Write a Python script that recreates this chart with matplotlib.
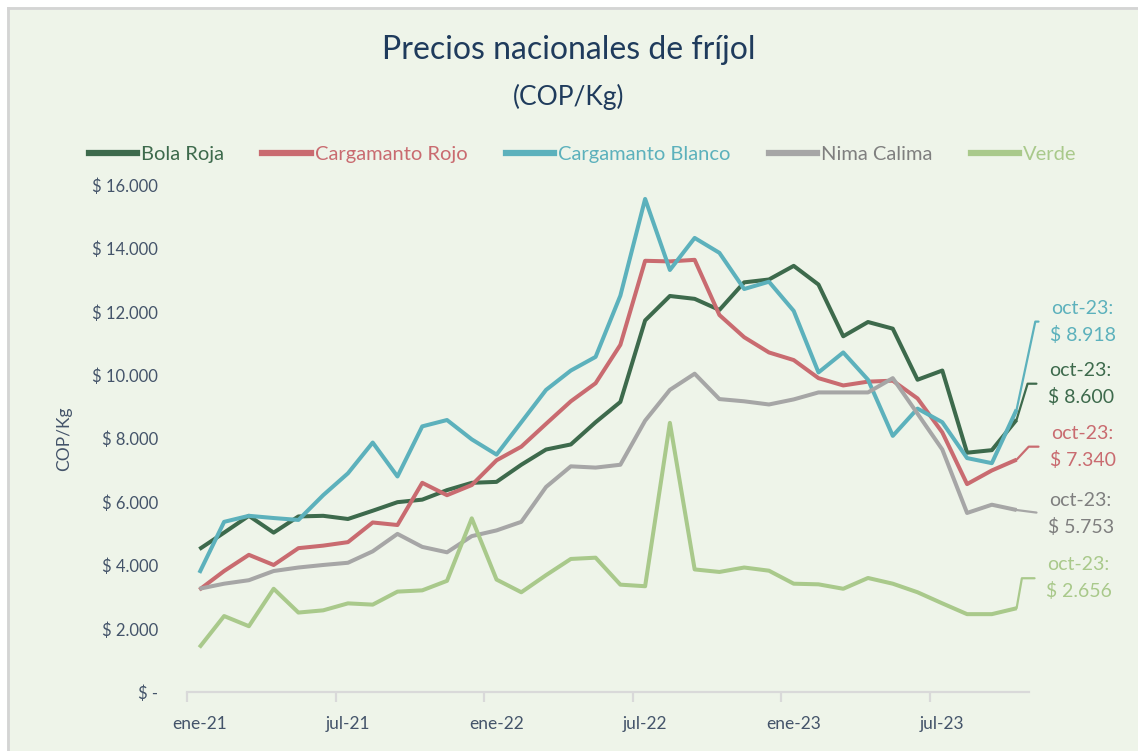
"""
Precios nacionales de frijol (COP/Kg), ene-21 a oct-23.

    python3 plot.py      # writes out.png
"""

import matplotlib

matplotlib.use("Agg")  # headless
import matplotlib.pyplot as plt
from matplotlib.lines import Line2D
from matplotlib.patches import Rectangle
from matplotlib.ticker import FuncFormatter, FixedLocator

# ── Data ────────────────────────────────────────────────────────────────────

months = [
    "ene-21", "feb-21", "mar-21", "abr-21", "may-21", "jun-21",
    "jul-21", "ago-21", "sep-21", "oct-21", "nov-21", "dic-21",
    "ene-22", "feb-22", "mar-22", "abr-22", "may-22", "jun-22",
    "jul-22", "ago-22", "sep-22", "oct-22", "nov-22", "dic-22",
    "ene-23", "feb-23", "mar-23", "abr-23", "may-23", "jun-23",
    "jul-23", "ago-23", "sep-23", "oct-23",
]

bola_roja = [
    4520, 5040, 5570, 5040, 5550, 5570, 5470, 5730, 6000, 6080, 6380, 6610,
    6640, 7180, 7660, 7820, 8520, 9160, 11730, 12500, 12410, 12060, 12930, 13020,
    13450, 12860, 11230, 11680, 11470, 9860, 10150, 7560, 7640, 8600,
]
cargamanto_rojo = [
    3240, 3830, 4340, 4020, 4550, 4630, 4740, 5360, 5280, 6610, 6220, 6540,
    7320, 7750, 8470, 9180, 9750, 10960, 13610, 13590, 13640, 11900, 11200, 10720,
    10480, 9910, 9680, 9800, 9830, 9270, 8200, 6570, 7000, 7340,
]
cargamanto_blanco = [
    3770, 5380, 5570, 5500, 5440, 6220, 6910, 7880, 6810, 8390, 8590, 7980,
    7500, 8520, 9540, 10150, 10580, 12510, 15560, 13320, 14330, 13860, 12720, 12950,
    12030, 10090, 10720, 9860, 8090, 8950, 8520, 7390, 7230, 8918,
]
nima_calima = [
    3270, 3430, 3540, 3830, 3940, 4020, 4090, 4450, 5000, 4590, 4420, 4930,
    5110, 5380, 6480, 7130, 7090, 7180, 8570, 9540, 10050, 9250, 9180, 9080,
    9240, 9460, 9460, 9460, 9910, 8790, 7660, 5660, 5920, 5753,
]
verde = [
    1420, 2410, 2090, 3270, 2520, 2590, 2810, 2770, 3180, 3220, 3520, 5490,
    3560, 3160, 3700, 4210, 4250, 3400, 3350, 8500, 3880, 3800, 3940, 3840,
    3430, 3410, 3270, 3610, 3430, 3160, 2810, 2470, 2470, 2656,
]

series_values = [bola_roja, cargamanto_rojo, cargamanto_blanco,
                 nima_calima, verde]
series_colors = ["#3d6a4c", "#c96b70", "#5cb1bc", "#a6a6a6", "#a9c98b"]
text_colors = ["#3d6a4c", "#c96b70", "#5cb1bc", "#7f7f7f", "#a9c98b"]

# Legend labels as printed on the original chart.
legend_labels = ["Bola Roja", "Cargamanto Rojo", "Cargamanto Blanco",
                 "Nima Calima", "Verde"]

y_ticks = [0, 2000, 4000, 6000, 8000, 10000, 12000, 14000, 16000]
x_label_every = 6

# End-of-series callouts: pixel offset of the text block from the last point,
# and angle of the leader line where it meets the point.
callout_offsets = [(64, 36), (66, 13), (66, 88), (64, -4), (62, 30)]
callout_angles = [73, 47, 78, None, 80]

BG = "#eef4e9"
NAVY = "#1f3b5c"
SLATE = "#44546a"
AXIS_GRAY = "#d9d9d9"
FONT = ["Lato", "DejaVu Sans"]


def peso(v, _pos=None):
    if v == 0:
        return "$ -"
    return "$ " + f"{v:,.0f}".replace(",", ".")


# ── Chart ──────────────────────────────────────────────────────────────────

def render(out_path="out.png"):
    plt.rcParams["font.family"] = FONT
    fig = plt.figure(figsize=(11.38, 7.51), dpi=100, facecolor=BG)

    # white margin + soft grey frame on the left/top edges
    fig.patches.append(Rectangle((0, 0), 7 / 1138, 1, transform=fig.transFigure,
                                 facecolor="white", edgecolor="none", zorder=0))
    fig.patches.append(Rectangle((0, 1 - 7 / 751), 1, 7 / 751, transform=fig.transFigure,
                                 facecolor="white", edgecolor="none", zorder=0))
    fig.add_artist(Line2D([8 / 1138, 8 / 1138], [0, 1 - 8 / 751], transform=fig.transFigure,
                          color="#d4d4d4", lw=2))
    fig.add_artist(Line2D([8 / 1138, 1], [1 - 8 / 751, 1 - 8 / 751], transform=fig.transFigure,
                          color="#d4d4d4", lw=2))

    ax = fig.add_axes([0.1643, 0.0779, 0.7399, 0.6758])
    ax.set_facecolor(BG)

    x = list(range(len(months)))
    for vals, color in zip(series_values, series_colors):
        ax.plot(x, vals, color=color, lw=2.9, solid_joinstyle="round",
                solid_capstyle="butt", zorder=3)

    ax.set_xlim(-0.5, len(months) - 0.5)
    ax.set_ylim(0, 16000)

    # y axis
    ax.yaxis.set_major_locator(FixedLocator(y_ticks))
    ax.yaxis.set_major_formatter(FuncFormatter(peso))
    ax.tick_params(axis="y", length=0, pad=21, labelsize=12, labelcolor=SLATE)
    ax.set_ylabel("COP/Kg", fontsize=12.5, color=SLATE, labelpad=14)

    # x axis: labels under every 6th month, tick marks on the boundaries
    lab_pos = x[::x_label_every]
    ax.set_xticks(lab_pos)
    ax.set_xticklabels(months[::x_label_every])
    ax.set_xticks([p - 0.5 for p in lab_pos], minor=True)
    ax.tick_params(axis="x", which="major", length=0, pad=17, labelsize=12.5,
                   labelcolor=SLATE)
    ax.tick_params(axis="x", which="minor", length=7, width=1.6, color=AXIS_GRAY,
                   direction="out")

    for side in ("left", "top", "right"):
        ax.spines[side].set_visible(False)
    ax.spines["bottom"].set_color(AXIS_GRAY)
    ax.spines["bottom"].set_linewidth(1.6)

    # callouts at the last month
    for vals, color, tcolor, off, ang in zip(series_values, series_colors, text_colors,
                                             callout_offsets, callout_angles):
        last = vals[-1]
        conn = "arc3" if ang is None else f"angle,angleA=0,angleB={ang},rad=0"
        ax.annotate(f"{months[-1]}:\n{peso(last)}", xy=(x[-1], last),
                    xytext=off, textcoords="offset pixels",
                    ha="center", va="center", multialignment="center",
                    fontsize=14, color=tcolor, linespacing=1.6,
                    annotation_clip=False,
                    arrowprops=dict(arrowstyle="-", color=color, lw=1.6,
                                    relpos=(0, 0.5), shrinkA=6, shrinkB=0,
                                    connectionstyle=conn))

    # titles
    fig.text(0.5, 0.933, "Precios nacionales de fríjol", ha="center", va="center",
             fontsize=23, color=NAVY)
    fig.text(0.5, 0.871, "(COP/Kg)", ha="center", va="center", fontsize=19,
             color=NAVY)

    handles = [Line2D([], [], color=c, lw=4.5) for c in series_colors]
    leg = fig.legend(handles, legend_labels, loc="center",
                     bbox_to_anchor=(0.512, 0.794), ncol=5, frameon=False,
                     fontsize=14.5, handlelength=2.4, handletextpad=0.2,
                     columnspacing=1.9)
    for txt, c in zip(leg.get_texts(), text_colors):
        txt.set_color(c)

    fig.savefig(out_path, dpi=100, facecolor=BG)
    plt.close(fig)


if __name__ == "__main__":
    render()
